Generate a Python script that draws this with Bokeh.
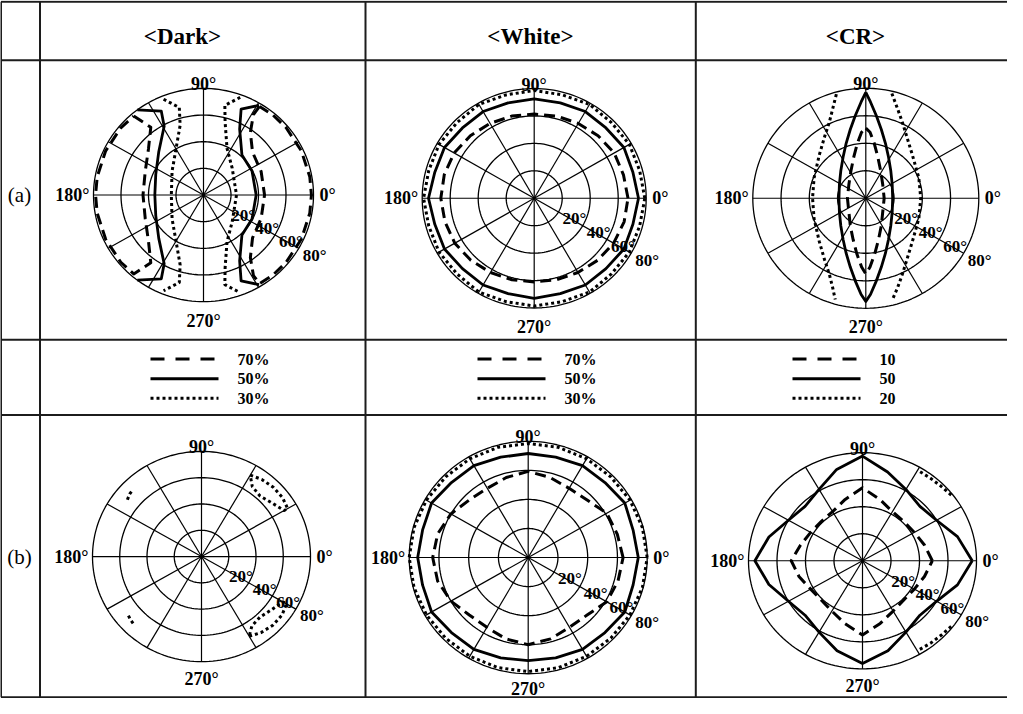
import numpy as np
from bokeh.plotting import figure
from bokeh.models import Range1d
from bokeh.core.properties import value
from bokeh.embed import file_html
from bokeh.resources import INLINE

# ---------------- texts ----------------
COLUMN_TITLES = ["<Dark>", "<White>", "<CR>"]
ROW_TITLES = ["(a)", "(b)"]
DIRECTION_LABELS = ["0°", "90°", "180°", "270°"]
RING_VALUES = [20, 40, 60, 80]
RING_LABELS = ["20°", "40°", "60°", "80°"]
SPOKE_ANGLES = list(range(0, 360, 30))
LEGEND_DARK = ["70%", "50%", "30%"]
LEGEND_WHITE = ["70%", "50%", "30%"]
LEGEND_CR = ["10", "50", "20"]
LEGEND_STYLES = ["dashed", "solid", "dotted"]

# ---------------- data: azimuth (deg) / polar angle (deg) ----------------
AZIMUTH_15 = list(range(0, 360, 15))

# Dark (a)
DARK_A_70_R_PHI = [58.5, 59, 54, 42, 23, 0, -23, -42, -54, -59, -58.5, -50, -40, -25, -10, 0, 10, 25, 40, 50, 58.5]
DARK_A_70_R_THETA = [78, 70.5, 58, 48, 45.5, 44.4, 45.5, 48, 58, 70.5, 78, 78.5, 78.5, 78.5, 78.5, 78.5, 78.5, 78.5, 78.5, 78.5, 78]
DARK_A_70_L_PHI = [130.6, 127, 139, 157, 180, 203, 221, 233, 229.4, 220, 205, 190, 180, 170, 155, 140, 130.6]
DARK_A_70_L_THETA = [78, 63.7, 53, 46, 44, 46, 53, 63.7, 78, 78.5, 78.5, 78.5, 78.5, 78.5, 78.5, 78.5, 78]
DARK_A_50_R_PHI = [59, 67, 62, 47, 27, 0, -27, -47, -62, -67, -59]
DARK_A_50_R_THETA = [78.5, 70, 56, 41, 39.6, 38.3, 39.6, 41, 56, 70, 78.5]
DARK_A_50_L_PHI = [127, 116, 119, 135, 156, 180, 204, 225, 241, 244, 233]
DARK_A_50_L_THETA = [80, 70, 59, 46, 38, 35.4, 38, 46, 59, 70, 80]
DARK_A_30_R_PHI = [70, 77, 74, 64, 44, 0, -44, -64, -74, -77, -70]
DARK_A_30_R_THETA = [78, 69, 57, 39, 29, 24, 29, 39, 57, 69, 78]
DARK_A_30_L_PHI = [112, 105, 108, 120, 142, 180, 218, 240, 252, 255, 248]
DARK_A_30_L_THETA = [77.5, 68, 55, 40, 29, 23.4, 29, 40, 55, 68, 77.5]

# White (a)  (on AZIMUTH_15)
WHITE_A_70 = [67, 66, 66, 64.5, 63, 62, 61.4, 62, 63, 64.5, 66, 66.5, 66.7, 66, 65.5, 64, 62.5, 61.5, 61, 61.5, 62.5, 64, 65.5, 66.5]
WHITE_A_50 = [74.5, 73, 74, 72.5, 73, 72, 72.5, 72, 73, 72.5, 74, 73.5, 75.5, 73.5, 74, 72.5, 73, 72, 73, 72, 73, 72.5, 74, 73]
WHITE_A_30 = [79, 78, 78.5, 78, 79, 78, 78.6, 78, 79, 78, 78.5, 78, 79, 78, 78.5, 78, 79, 78, 78.6, 78, 79, 78, 78.5, 78]

# CR (a)
CR_A_10_PHI = [90, 86.4, 81.5, 74.2, 62.3, 39.8, 0, -39.8, -61.2, -73.3, -80.8, -86.6, -90,
               -93.4, -99.2, -106.7, -118.8, -140.2, 180, 140.2, 117.7, 105.8, 98.5, 93.6, 90]
CR_A_10_THETA = [51, 48.1, 40.4, 31.2, 22.6, 15.6, 13, 15.6, 22.8, 31.3, 40.5, 50.1, 55,
                 50.1, 40.5, 31.3, 22.8, 15.6, 13, 15.6, 22.6, 31.2, 40.4, 48.1, 51]
CR_A_50_PHI = [90, 87.3, 82.9, 77.6, 70.8, 61.8, 48.5, 28.1, 0, -28.1, -48.5, -61.8, -70.8, -77.6, -82.9, -87.3, -90,
               -92.7, -97.1, -102.4, -109.2, -118.2, -131.5, -151.9, 180, 151.9, 131.5, 118.2, 109.2, 102.4, 97.1, 92.7, 90]
CR_A_50_THETA = [77, 70.1, 60.5, 51.2, 42.3, 34, 26.7, 21.2, 19, 21.2, 26.7, 34, 42.3, 51.2, 60.5, 70.1, 75,
                 70.1, 60.5, 51.2, 42.3, 34, 26.7, 21.2, 19, 21.2, 26.7, 34, 42.3, 51.2, 60.5, 70.1, 77]
CR_A_20_R_PHI = [76.4, 70.9, 64.7, 57.2, 43.5, 21.8, 0, -21.8, -43.5, -57.2, -64.7, -70.9, -75.6]
CR_A_20_R_THETA = [78.4, 68.8, 60.8, 53.5, 45.5, 40.4, 38.9, 40.4, 45.5, 53.5, 60.8, 68.8, 76]
CR_A_20_L_PHI = [105.4, 110, 115.2, 123, 136.4, 158, 180, 202, 223.6, 237, 244.8, 250, 253.6]
CR_A_20_L_THETA = [78.5, 68.8, 60.8, 53.5, 45.5, 39.5, 37.7, 39.5, 45.5, 53.5, 60.8, 68.8, 76.7]

# Dark (b)
DARK_B_30_UR_PHI = [60, 53, 45, 37, 30, 30, 38, 47, 55, 60]
DARK_B_30_UR_THETA = [71.5, 73.5, 74.5, 74.5, 73, 70, 66, 63, 65, 71.5]
DARK_B_30_LR_PHI = [-60, -53, -45, -37, -30, -30, -38, -47, -55, -60]
DARK_B_30_LR_THETA = [70, 72.5, 74, 74, 72, 69, 65.5, 63, 64.5, 70]
DARK_B_30_UL_PHI = [141.5, 138, 135]
DARK_B_30_UL_THETA = [69.5, 71, 71.5]
DARK_B_30_LL_PHI = [-140, -137, -134]
DARK_B_30_LL_THETA = [70, 71, 71.6]

# White (b)  (on AZIMUTH_15)
WHITE_B_70 = [63.8, 62, 61, 56, 55, 57, 59.3, 57, 55, 56, 60, 63, 64.2, 63, 60, 56, 55.5, 58, 60, 58, 55.5, 56, 61, 62.5]
WHITE_B_50 = [74, 73, 75, 73, 73, 71.5, 71.6, 71.5, 73, 73, 75, 73.5, 74.3, 73.5, 75, 73, 73, 71.5, 71, 71.5, 73, 73, 75, 73]
WHITE_B_30 = [80, 79.5, 79, 78.5, 78.5, 78.5, 78.5, 78.5, 78.5, 78.5, 79, 79.5, 80, 79.5, 79, 78.5, 78.5, 78.5, 78.5, 78.5, 78.5, 78.5, 79, 79.5]

# CR (b)  (on AZIMUTH_15, arcs separately)
CR_B_10 = [49, 45, 42, 41, 42, 47, 54, 47, 42, 41, 42, 45, 50, 46, 42, 41, 43, 48, 55, 48, 43, 41, 42, 45]
CR_B_50 = [77, 69, 60, 57, 61, 68, 77.5, 70, 61, 57, 60, 68, 75.5, 68, 60, 57, 61, 69, 76, 69, 61, 57, 60, 69]
CR_B_20_U_PHI = [38, 45, 52, 60]
CR_B_20_U_THETA = [79, 78, 77.5, 77.5]
CR_B_20_L_PHI = [-38, -45, -52, -60]
CR_B_20_L_THETA = [79, 78, 77.5, 77]

# ---------------- layout (reference pixel space) ----------------
GEOM = {
    "dark_a": (211.0, 201.0, 110.0, 108.5),
    "white_a": (541.7, 204.3, 112.0, 111.7),
    "cr_a": (873.3, 204.3, 113.0, 112.0),
    "dark_b": (209.0, 569.0, 109.0, 107.0),
    "white_b": (535.7, 570.0, 119.0, 118.3),
    "cr_b": (870.0, 573.3, 114.0, 110.0),
}
BOTTOM_LABEL_GAP = {"dark_a": 19.5, "white_a": 19.5, "cr_a": 19.5,
                    "dark_b": 18.0, "white_b": 15.5, "cr_b": 17.0}


def closed(lst):
    return list(lst) + [lst[0]]


CURVES = {
    "dark_a": [
        (DARK_A_70_R_PHI, DARK_A_70_R_THETA, "dashed"), (DARK_A_70_L_PHI, DARK_A_70_L_THETA, "dashed"),
        (DARK_A_50_R_PHI, DARK_A_50_R_THETA, "solid"), (DARK_A_50_L_PHI, DARK_A_50_L_THETA, "solid"),
        (DARK_A_30_R_PHI, DARK_A_30_R_THETA, "dotted"), (DARK_A_30_L_PHI, DARK_A_30_L_THETA, "dotted"),
    ],
    "white_a": [
        (closed(AZIMUTH_15), closed(WHITE_A_70), "dashed"),
        (closed(AZIMUTH_15), closed(WHITE_A_50), "solid"),
        (closed(AZIMUTH_15), closed(WHITE_A_30), "dotted"),
    ],
    "cr_a": [
        (CR_A_10_PHI, CR_A_10_THETA, "dashed"),
        (CR_A_50_PHI, CR_A_50_THETA, "solid"),
        (CR_A_20_R_PHI, CR_A_20_R_THETA, "dotted"), (CR_A_20_L_PHI, CR_A_20_L_THETA, "dotted"),
    ],
    "dark_b": [
        (DARK_B_30_UR_PHI, DARK_B_30_UR_THETA, "dotted"), (DARK_B_30_LR_PHI, DARK_B_30_LR_THETA, "dotted"),
        (DARK_B_30_UL_PHI, DARK_B_30_UL_THETA, "dotted"), (DARK_B_30_LL_PHI, DARK_B_30_LL_THETA, "dotted"),
    ],
    "white_b": [
        (closed(AZIMUTH_15), closed(WHITE_B_70), "dashed"),
        (closed(AZIMUTH_15), closed(WHITE_B_50), "solid"),
        (closed(AZIMUTH_15), closed(WHITE_B_30), "dotted"),
    ],
    "cr_b": [
        (closed(AZIMUTH_15), closed(CR_B_10), "dashed"),
        (closed(AZIMUTH_15), closed(CR_B_50), "solid"),
        (CR_B_20_U_PHI, CR_B_20_U_THETA, "dotted"), (CR_B_20_L_PHI, CR_B_20_L_THETA, "dotted"),
    ],
}

STYLE = {
    "dashed": dict(line_dash="11 6", line_width=3.0),
    "solid": dict(line_width=2.8),
    "dotted": dict(line_dash="3 3", line_width=3.0),
}

SERIF = value("Liberation Serif")
W, H = 1007, 698
p = figure(width=W, height=H, x_range=Range1d(8, 8 + W), y_range=Range1d(713.5, 3.0),
           output_backend="svg", toolbar_location=None, min_border=0,
           x_axis_location=None, y_axis_location=None)
p.grid.visible = False
p.outline_line_color = None
p.background_fill_color = "white"
p.border_fill_color = "white"

# ---------------- table ----------------
HLINES = [4.3, 63.7, 348.3, 425.0, 712.3]
VLINES = [8.5, 47.5, 373.0, 703.3]
p.segment(x0=[8.5] * len(HLINES), y0=HLINES, x1=[1016] * len(HLINES), y1=HLINES,
          line_color="#1c1c1c", line_width=2)
p.segment(x0=VLINES, y0=[HLINES[0]] * len(VLINES), x1=VLINES, y1=[HLINES[-1]] * len(VLINES),
          line_color="#1c1c1c", line_width=2)

p.text(x=[190, 538, 863], y=[40, 40, 40], text=COLUMN_TITLES, text_font=SERIF,
       text_font_style="bold", text_font_size="23px", text_align="center",
       text_baseline="middle", text_color="black")
p.text(x=[27, 27], y=[GEOM["dark_a"][1], GEOM["dark_b"][1]], text=ROW_TITLES, text_font=SERIF,
       text_font_size="21px", text_align="center", text_baseline="middle", text_color="black")


def to_xy(key, phi, theta):
    cx, cy, rx, ry = GEOM[key]
    a = np.radians(np.asarray(phi, dtype=float))
    t = np.asarray(theta, dtype=float) / 80.0
    return cx + rx * t * np.cos(a), cy - ry * t * np.sin(a)


circle_az = np.arange(0, 361, 2)
for key in GEOM:
    cx, cy, rx, ry = GEOM[key]
    # rings
    for rv in RING_VALUES:
        xs, ys = to_xy(key, circle_az, [rv] * len(circle_az))
        p.line(xs, ys, line_color="black", line_width=1.3)
    # spokes
    ex, ey = to_xy(key, SPOKE_ANGLES, [RING_VALUES[-1]] * len(SPOKE_ANGLES))
    p.segment(x0=[cx] * len(ex), y0=[cy] * len(ey), x1=ex, y1=ey, line_color="black", line_width=1.2)
    # curves
    for phi, theta, style in CURVES[key]:
        xs, ys = to_xy(key, phi, theta)
        p.line(xs, ys, line_color="black", line_join="round", **STYLE[style])
    # direction labels
    p.text(x=[cx + rx + 6], y=[cy], text=[DIRECTION_LABELS[0]], text_font=SERIF, text_font_style="bold",
           text_font_size="18px", text_align="left", text_baseline="middle", text_color="black")
    p.text(x=[cx - rx - 4], y=[cy], text=[DIRECTION_LABELS[2]], text_font=SERIF, text_font_style="bold",
           text_font_size="18px", text_align="right", text_baseline="middle", text_color="black")
    p.text(x=[cx], y=[cy - ry - 4], text=[DIRECTION_LABELS[1]], text_font=SERIF, text_font_style="bold",
           text_font_size="18px", text_align="center", text_baseline="alphabetic", text_color="black")
    p.text(x=[cx], y=[cy + ry + BOTTOM_LABEL_GAP[key]], text=[DIRECTION_LABELS[3]], text_font=SERIF,
           text_font_style="bold", text_font_size="18px", text_align="center", text_baseline="alphabetic",
           text_color="black")
    # ring labels along the 330 deg spoke
    lx, ly = to_xy(key, [-30] * len(RING_VALUES), RING_VALUES)
    p.text(x=lx + 4, y=ly + 7, text=RING_LABELS, text_font=SERIF, text_font_style="bold",
           text_font_size="17px", text_align="left", text_baseline="middle", text_color="black")

# ---------------- legends ----------------
LEGEND_Y = [368, 388, 408]
LEGEND_SAMPLE_X = [(158, 223), (485, 550), (800, 865)]
LEGEND_TEXT_X = [245, 572, 887]
for (x0, x1), tx, labels in zip(LEGEND_SAMPLE_X, LEGEND_TEXT_X, [LEGEND_DARK, LEGEND_WHITE, LEGEND_CR]):
    for yy, style in zip(LEGEND_Y, LEGEND_STYLES):
        sty = dict(STYLE[style])
        if style == "dashed":
            sty["line_dash"] = "14 11"
        p.line([x0, x1 + 3], [yy, yy], line_color="black", **sty)
    p.text(x=[tx] * 3, y=LEGEND_Y, text=labels, text_font=SERIF, text_font_style="bold",
           text_font_size="16px", text_align="left", text_baseline="middle", text_color="black")

open("out.html", "w").write(file_html(p, INLINE))
